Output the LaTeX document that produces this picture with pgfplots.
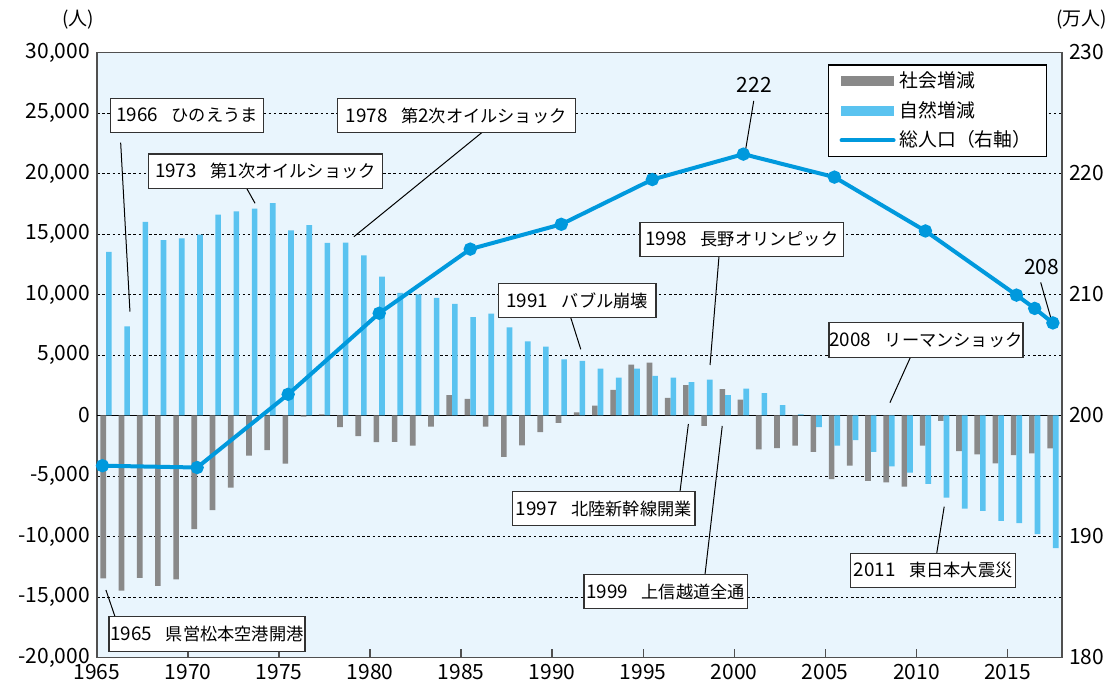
\documentclass[border=0pt]{standalone}
\usepackage{fontspec}
\setmainfont{Noto Sans CJK JP}
\usepackage{pgfplots}
\usepackage{pgfplotstable}
\pgfplotsset{compat=1.18}
\definecolor{graybar}{RGB}{137,137,137}
\definecolor{bluebar}{RGB}{90,195,240}
\definecolor{popline}{RGB}{0,153,221}
\definecolor{bgblue}{RGB}{233,245,253}
\definecolor{framec}{RGB}{80,80,80}
\definecolor{boxc}{RGB}{50,50,50}

\pgfplotstableread{
year social natural
1965 -13460 13520
1966 -14480 7360
1967 -13410 16000
1968 -14090 14500
1969 -13540 14640
1970 -9400 14950
1971 -7830 16600
1972 -5960 16870
1973 -3320 17090
1974 -2860 17550
1975 -3980 15300
1976 -100 15740
1977 100 14260
1978 -960 14290
1979 -1700 13240
1980 -2200 11480
1981 -2170 10140
1982 -2500 10000
1983 -910 9730
1984 1680 9230
1985 1370 8130
1986 -930 8410
1987 -3430 7280
1988 -2470 6130
1989 -1370 5690
1990 -600 4640
1991 250 4510
1992 820 3870
1993 2120 3130
1994 4200 3870
1995 4370 3270
1996 1460 3130
1997 2500 2750
1998 -850 2970
1999 2170 1680
2000 1320 2230
2001 -2800 1840
2002 -2690 850
2003 -2500 100
2004 -3000 -960
2005 -5250 -2500
2006 -4150 -2030
2007 -5410 -3000
2008 -5520 -4200
2009 -5880 -4730
2010 -2500 -5660
2011 -440 -6790
2012 -2940 -7690
2013 -3210 -7880
2014 -3960 -8710
2015 -3270 -8900
2016 -3130 -9810
2017 -2720 -10960
}\datatable

\pgfplotstableread{
x pop
1965.3 195.85
1970.5 195.7
1975.5 201.75
1980.5 208.45
1985.5 213.75
1990.5 215.8
1995.5 219.5
2000.5 221.6
2005.5 219.7
2010.5 215.25
2015.5 209.95
2016.5 208.85
2017.5 207.65
}\poptable

\newcommand{\yr}[1]{{\fontsize{9.4}{10}\selectfont #1}\hspace{0.8em}}
\tikzset{
  anno/.style={draw=boxc, fill=white, line width=0.6pt, inner sep=0pt,
    minimum height=17.2pt, font=\fontsize{8.6}{10}\selectfont},
  annoline/.style={black, line width=0.5pt}
}

\begin{document}
\begin{tikzpicture}
\path[use as bounding box] (-48.5pt,-15.75pt) rectangle (508pt,328.75pt);
\begin{axis}[
  scale only axis, width=482.5pt, height=302.5pt,
  xmin=1965, xmax=2018, ymin=-20000, ymax=30000,
  clip=false,
  axis background/.style={fill=bgblue},
  axis line style={framec, line width=0.8pt},
  xtick={1965,1970,...,2015},
  ytick={-20000,-15000,...,30000},
  scaled y ticks=false,
  xtick pos=bottom, tick align=inside,
  major tick length=4pt,
  xtick style={framec, line width=0.7pt},
  ytick style={draw=none},
  ymajorgrids,
  major grid style={black, line width=0.45pt, dash pattern=on 1.3pt off 1.3pt},
  extra y ticks={0}, extra y tick labels={},
  extra y tick style={grid=major, major grid style={black, solid, line width=0.6pt}, major tick length=0pt},
  ticklabel style={font=\fontsize{10.5}{12}\selectfont},
  /pgf/number format/assume math mode=true,
  yticklabel style={/pgf/number format/fixed, /pgf/number format/1000 sep={,}},
  xticklabel style={/pgf/number format/1000 sep={}},
]
\addplot[ybar, bar width=0.31, bar shift=0.345, fill=graybar, draw=none] table[x=year,y=social] {\datatable};
\addplot[ybar, bar width=0.31, bar shift=0.655, fill=bluebar, draw=none] table[x=year,y=natural] {\datatable};

% annotations
\draw[annoline] (axis cs:1966.30,22546) -- (axis cs:1966.81,8579);
\node[anno, minimum width=76.2pt] at (axis cs:1969.94,24794) {\yr{1966}ひのえうま};
\draw[annoline] (axis cs:1973.22,18777) -- (axis cs:1973.68,17538);
\node[anno, minimum width=117.2pt] at (axis cs:1974.25,20190) {\yr{1973}第{\fontsize{9.4}{10}\selectfont 1}次オイルショック};
\draw[annoline] (axis cs:1986.13,23372) -- (axis cs:1979.11,14777);
\node[anno, minimum width=118.9pt] at (axis cs:1984.73,24794) {\yr{1978}第{\fontsize{9.4}{10}\selectfont 2}次オイルショック};
\draw[annoline] (axis cs:1991.02,8083) -- (axis cs:1991.57,5471);
\node[anno, minimum width=78.9pt] at (axis cs:1991.37,9504) {\yr{1991}バブル崩壊};
\draw[annoline] (axis cs:1999.16,13124) -- (axis cs:1998.67,4174);
\node[anno, minimum width=101.7pt] at (axis cs:2000.41,14546) {\yr{1998}長野オリンピック};
\draw[annoline] (axis cs:2009.69,4860) -- (axis cs:2008.55,1058);
\node[anno, minimum width=97pt] at (axis cs:2010.53,6240) {\yr{2008}リーマンショック};
\draw[annoline] (axis cs:1997.02,-6297) -- (axis cs:1997.48,-702);
\node[anno, minimum width=91.3pt] at (axis cs:1992.83,-7702) {\yr{1997}北陸新幹線開業};
\draw[annoline] (axis cs:1998.39,-13181) -- (axis cs:1999.34,-867);
\node[anno, minimum width=81.7pt] at (axis cs:1996.23,-14562) {\yr{1999}上信越道全通};
\draw[annoline] (axis cs:2011.12,-11388) -- (axis cs:2011.53,-7537);
\node[anno, minimum width=82.5pt] at (axis cs:2010.92,-12810) {\yr{2011}東日本大震災};
\draw[annoline] (axis cs:1965.99,-16628) -- (axis cs:1965.49,-14421);
\node[anno, minimum width=98pt] at (axis cs:1971.04,-18058) {\yr{1965}県営松本空港開港};

\node[font=\fontsize{9.5}{11}\selectfont] at (rel axis cs:-0.0197,1.0545) {(人)};
\node[font=\fontsize{9.5}{11}\selectfont] at (rel axis cs:1.0207,1.0545) {(万人)};
\end{axis}

\begin{axis}[
  scale only axis, width=482.5pt, height=302.5pt,
  xmin=1965, xmax=2018, ymin=180, ymax=230,
  clip=false,
  axis x line=none,
  axis y line*=right,
  axis line style={framec, line width=0.8pt},
  ytick={180,190,...,230},
  ytick style={draw=none},
  ticklabel style={font=\fontsize{10.5}{12}\selectfont},
  /pgf/number format/assume math mode=true,
  legend style={at={(0.7575,0.9802)}, anchor=north west, draw=black, line width=0.6pt,
    fill=white, font=\fontsize{9.4}{11}\selectfont, inner xsep=5.5pt, inner ysep=1.5pt,
    row sep=1.2pt},
  legend cell align=left,
]
\addlegendimage{legend image code/.code={\fill[graybar] (0pt,-2.2pt) rectangle (26pt,2.2pt);}}
\addlegendentry{社会増減}
\addlegendimage{legend image code/.code={\fill[bluebar] (0pt,-2.2pt) rectangle (26pt,2.2pt);}}
\addlegendentry{自然増減}
\addplot[popline, line width=2pt, mark=*, mark size=2.3pt,
  legend image code/.code={\draw[popline, line width=2pt, line cap=round] (0pt,0pt) -- (26pt,0pt);}]
  table[x=x,y=pop] {\poptable};
\addlegendentry{総人口（右軸）}

\draw[annoline] (axis cs:2001.07,226.0) -- (axis cs:2000.59,221.67);
\node[font=\fontsize{10.5}{12}\selectfont] at (axis cs:2001.1,227.3) {222};
\draw[annoline] (axis cs:2016.83,211.0) -- (axis cs:2017.43,207.83);
\node[font=\fontsize{10.5}{12}\selectfont] at (axis cs:2016.88,212.25) {208};
\end{axis}
\end{tikzpicture}
\end{document}
